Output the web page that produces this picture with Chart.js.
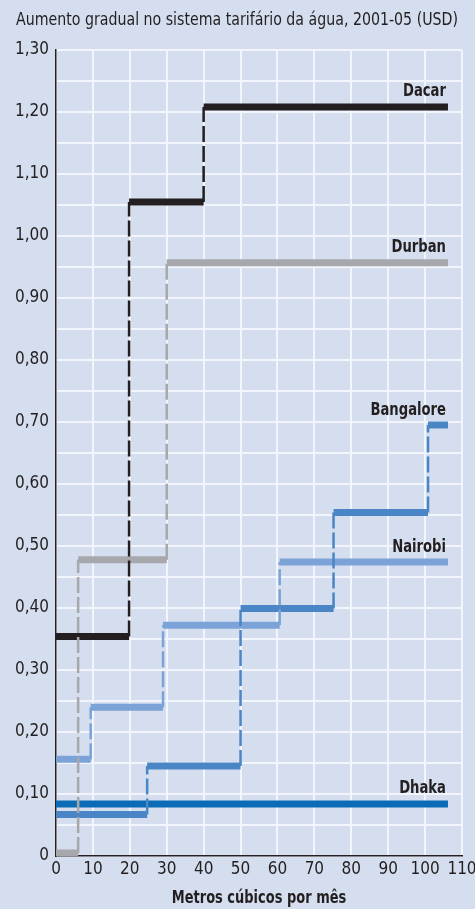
<!DOCTYPE html>
<html>
<head>
<meta charset="utf-8">
<script src="https://cdn.jsdelivr.net/npm/chart.js@4"></script>
<style>
html,body{margin:0;padding:0;background:#d5deef;}
canvas{display:block;}
</style>
</head>
<body>
<canvas id="c" width="475" height="909"></canvas>
<script>
const FONT = '"DejaVu Sans Condensed","Liberation Sans Narrow","Liberation Sans",sans-serif';
const titleText = 'Aumento gradual no sistema tarifário da água, 2001-05 (USD)';
const xAxisTitle = 'Metros cúbicos por mês';

const xTicks = [0,10,20,30,40,50,60,70,80,90,100,110];
const yTickLabels = ['0','0,10','0,20','0,30','0,40','0,50','0,60','0,70','0,80','0,90','1,00','1,10','1,20','1,30'];

const seriesNames = ['Dacar','Durban','Bangalore','Nairobi','Dhaka'];
// step break points (x) and tariff levels (y) per series
const dacarX = [0, 19.8, 40, 106.2];
const dacarY = [0.354, 1.055, 1.208];
const durbanX = [0, 6, 30, 106.2];
const durbanY = [0.005, 0.478, 0.957];
const bangaloreX = [0, 24.7, 50, 75.2, 100.8, 106.2];
const bangaloreY = [0.067, 0.145, 0.399, 0.554, 0.695];
const nairobiX = [0, 9.4, 29, 60.6, 106.2];
const nairobiY = [0.156, 0.24, 0.372, 0.474];
const dhakaX = [0, 106.2];
const dhakaY = [0.084];

const colors = ['#231f20','#a6a8ab','#4a86c5','#7ba3d7','#0b6cb5'];
const allX = [dacarX, durbanX, bangaloreX, nairobiX, dhakaX];
const allY = [dacarY, durbanY, bangaloreY, nairobiY, dhakaY];

function horizPoints(xs, ys){
  const pts = [];
  for (let i=0;i<ys.length;i++){
    pts.push({x:xs[i], y:ys[i]});
    pts.push({x:xs[i+1], y:ys[i]});
    pts.push({x:xs[i+1], y:null});
  }
  return pts;
}
function vertPoints(xs, ys){
  const pts = [];
  for (let i=1;i<ys.length;i++){
    pts.push({x:xs[i], y:ys[i-1]});
    pts.push({x:xs[i], y:ys[i]});
    pts.push({x:xs[i], y:null});
  }
  return pts;
}

const datasets = [];
for (let s=0;s<seriesNames.length;s++){
  datasets.push({
    label: seriesNames[s]+' v',
    data: vertPoints(allX[s], allY[s]),
    borderColor: colors[s],
    borderWidth: 2.5,
    borderDash: [16,4],
    pointRadius: 0,
    spanGaps: false,
    fill: false,
    tension: 0
  });
}
const hOrder = [2,3,4,1,0];
for (const s of hOrder){
  datasets.push({
    label: seriesNames[s],
    data: horizPoints(allX[s], allY[s]),
    borderColor: colors[s],
    borderWidth: 7,
    borderCapStyle: 'butt',
    pointRadius: 0,
    spanGaps: false,
    fill: false,
    tension: 0
  });
}

const bgPlugin = {
  id: 'bg',
  beforeDraw(chart){
    const ctx = chart.ctx;
    ctx.save();
    ctx.fillStyle = '#d5deef';
    ctx.fillRect(0,0,chart.width,chart.height);
    ctx.restore();
  }
};

function squeezedText(ctx, text, x, y, sx, align){
  ctx.save();
  const w = ctx.measureText(text).width * sx;
  let left = x;
  if (align === 'center') left = x - w/2;
  else if (align === 'right') left = x - w;
  ctx.translate(left, y);
  ctx.scale(sx, 1);
  ctx.textAlign = 'left';
  ctx.fillText(text, 0, 0);
  ctx.restore();
}

const textPlugin = {
  id: 'texts',
  afterDraw(chart){
    const ctx = chart.ctx;
    const xs = chart.scales.x, ys = chart.scales.y;
    ctx.save();
    ctx.fillStyle = '#231f20';
    ctx.textBaseline = 'middle';
    ctx.font = '18px ' + FONT;
    const tw = ctx.measureText(titleText).width;
    squeezedText(ctx, titleText, 16, 20, 442/tw, 'left');
    ctx.font = 'bold 17px ' + FONT;
    squeezedText(ctx, xAxisTitle, (chart.chartArea.left + chart.chartArea.right)/2, 899, 0.85, 'center');
    for (let s=0;s<seriesNames.length;s++){
      const xa = allX[s], ya = allY[s];
      const px = xs.getPixelForValue(xa[xa.length-1]) - 2;
      const py = ys.getPixelForValue(ya[ya.length-1]) - 15;
      squeezedText(ctx, seriesNames[s], px, py, 0.86, 'right');
    }
    ctx.restore();
  }
};

new Chart(document.getElementById('c'), {
  type: 'line',
  data: { datasets },
  plugins: [bgPlugin, textPlugin],
  options: {
    responsive: false,
    animation: false,
    events: [],
    layout: { padding: { top: 50, left: 0, right: 13, bottom: 0 } },
    plugins: { legend: {display:false}, tooltip: {enabled:false}, title: {display:false} },
    scales: {
      x: {
        type: 'linear',
        min: 0, max: 110,
        afterFit(scale){ scale.height = 53; scale.paddingLeft = 0; scale.paddingRight = 0; },
        afterBuildTicks(scale){ scale.ticks = xTicks.map(v => ({value:v})); },
        ticks: {
          color: '#231f20',
          font: { family: FONT, size: 17 },
          padding: 3,
          maxRotation: 0,
          autoSkip: false,
          callback: v => String(v)
        },
        grid: { color: '#f2f5fb', lineWidth: 2, drawTicks: false },
        border: { color: '#231f20', width: 1.5 }
      },
      y: {
        min: 0, max: 1.3,
        afterFit(scale){ scale.width = 56; scale.paddingTop = 0; scale.paddingBottom = 0; },
        ticks: {
          stepSize: 0.05,
          color: '#231f20',
          font: { family: FONT, size: 17 },
          padding: 7,
          autoSkip: false,
          callback: function(v){
            const k = Math.round(v*20);
            if (k % 2 !== 0) return '';
            return yTickLabels[k/2];
          }
        },
        grid: { color: '#f2f5fb', lineWidth: 2, drawTicks: false },
        border: { color: '#231f20', width: 1.5 }
      }
    }
  }
});
</script>
</body>
</html>
